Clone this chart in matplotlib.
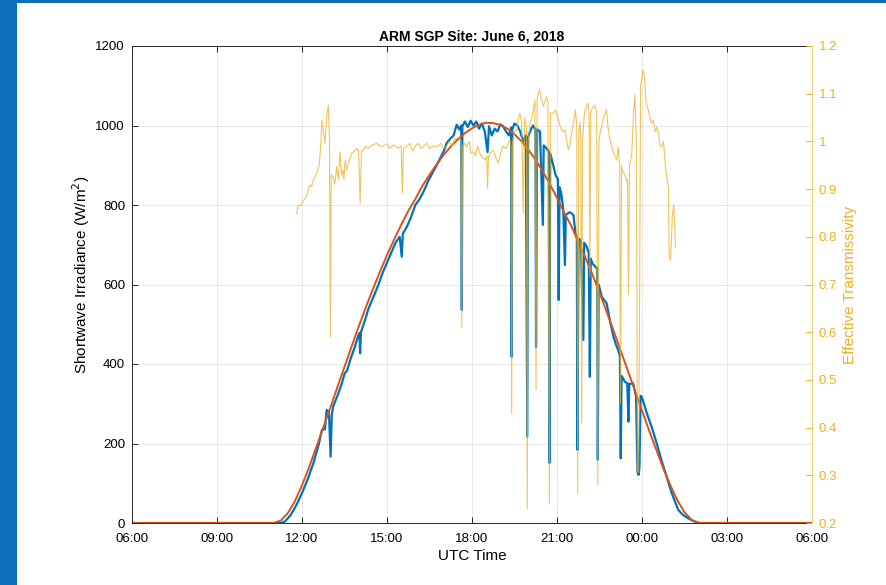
import numpy as np
import matplotlib.pyplot as plt
from matplotlib.patches import Rectangle

# times are hours after 06:00 UTC on June 6
# clear-sky model (red)
t_clear = [0, 5.0, 5.25, 5.5, 5.75, 6.0, 6.25, 6.5, 6.75, 7.0, 7.25, 7.5, 7.75,
           8.0, 8.25, 8.5, 8.75, 9.0, 9.25, 9.5, 9.75, 10.0, 10.25, 10.5, 10.75,
           11.0, 11.25, 11.5, 11.75, 12.0, 12.25, 12.5, 12.75, 13.0, 13.25, 13.5,
           13.75, 14.0, 14.25, 14.5, 14.75, 15.0, 15.25, 15.5, 15.75, 16.0, 16.25,
           16.5, 16.75, 17.0, 17.25, 17.5, 17.75, 18.0, 18.25, 18.5, 18.75, 19.0,
           19.25, 19.5, 19.75, 20.0, 24]
sw_clear = [0, 0, 6, 25, 55, 95, 140, 190, 240, 290, 342, 393, 444,
            494, 542, 588, 632, 674, 713, 750, 785, 815, 848, 876, 902,
            926, 947, 965, 981, 993, 1002, 1007, 1006, 1001, 992, 978,
            960, 938, 913, 884, 852, 818, 781, 748, 708, 668, 625,
            580, 532, 483, 433, 383, 333, 283, 233, 185, 138, 95,
            57, 27, 8, 0, 0]

# measured shortwave (blue)
t_meas = [0, 5.25, 5.4, 5.6, 5.8, 6.0, 6.2, 6.4, 6.6, 6.70, 6.81, 6.87, 6.95, 7.01,
          7.05, 7.1, 7.25, 7.4, 7.5, 7.6, 7.7, 7.85, 7.98, 8.03, 8.05, 8.08, 8.2,
          8.35, 8.5, 8.7, 8.85, 9.0, 9.15, 9.3, 9.45, 9.52, 9.56, 9.7, 9.85, 10.0,
          10.15, 10.3, 10.45, 10.6, 10.75, 10.87, 11.0, 11.1, 11.25, 11.35, 11.46,
          11.55, 11.62, 11.64, 11.66, 11.75, 11.85, 11.95, 12.05, 12.15, 12.25,
          12.35, 12.45, 12.55, 12.6, 12.7, 12.8, 12.9, 13.0, 13.1, 13.2, 13.3,
          13.38, 13.40, 13.42, 13.5, 13.6, 13.7, 13.81, 13.9, 13.95, 13.98, 14.05,
          14.15, 14.24, 14.26, 14.3, 14.4, 14.5, 14.53, 14.6, 14.71, 14.73, 14.76,
          14.85, 14.95, 15.03, 15.06, 15.09, 15.15, 15.22, 15.28, 15.31, 15.45,
          15.58, 15.65, 15.70, 15.72, 15.76, 15.84, 15.93, 15.96, 16.05, 16.12,
          16.16, 16.19, 16.25, 16.35, 16.42, 16.44, 16.47, 16.58, 16.75, 16.88,
          16.99, 17.1, 17.16, 17.22, 17.25, 17.28, 17.4, 17.48, 17.52, 17.55,
          17.69, 17.79, 17.84, 17.88, 17.91, 17.95, 17.99, 18.17, 18.35, 18.52,
          18.7, 18.87, 19.05, 19.28, 19.45, 19.63, 19.8, 20.04, 24]
sw_meas = [0, 0, 4, 20, 45, 75, 110, 150, 200, 234, 236, 284, 280, 167,
           270, 293, 320, 350, 375, 385, 410, 440, 470, 478, 427, 480, 505,
           540, 565, 600, 630, 655, 680, 705, 720, 670, 728, 745, 770, 800,
           815, 835, 860, 880, 900, 917, 935, 955, 968, 975, 1002,
           990, 1000, 536, 998, 1010, 996, 1012, 1000, 1010, 992,
           1005, 985, 933, 998, 975, 992, 985, 1003, 998, 985, 975,
           995, 418, 990, 1005, 1000, 985, 960, 975, 217, 970, 985,
           1000, 990, 443, 990, 985, 750, 950, 945, 935, 151, 930,
           905, 875, 865, 561, 845, 830, 790, 649, 775, 782,
           775, 730, 720, 184, 715, 712, 460, 705, 695, 680,
           368, 665, 653, 645, 640, 159, 600, 569, 553, 505,
           469, 445, 435, 420, 163, 370, 355, 352, 255, 350,
           351, 318, 130, 121, 140, 320, 318, 276, 240, 200,
           155, 116, 75, 33, 20, 12, 5, 0, 0]

# effective transmissivity (yellow, right axis)
t_trans = [5.81, 5.87, 5.95, 6.05, 6.12, 6.17, 6.23, 6.28, 6.34, 6.40, 6.46, 6.52,
           6.58, 6.61, 6.67, 6.70, 6.75, 6.81, 6.87, 6.93, 6.97, 7.0, 7.03, 7.10,
           7.16, 7.22, 7.28, 7.34, 7.40, 7.44, 7.48, 7.52, 7.58, 7.63, 7.70, 7.75,
           7.85, 7.93, 8.0, 8.05, 8.1, 8.16, 8.25, 8.33, 8.40, 8.5, 8.64, 8.75,
           8.85, 9.0, 9.1, 9.2, 9.3, 9.4, 9.5, 9.54, 9.58, 9.7, 9.8, 9.9, 10.0,
           10.1, 10.2, 10.3, 10.4, 10.5, 10.6, 10.7, 10.8, 10.9, 11.0, 11.1, 11.2,
           11.3, 11.4, 11.46, 11.55, 11.62, 11.64, 11.67, 11.75, 11.81, 11.9,
           11.97, 12.05, 12.12, 12.2, 12.3, 12.4, 12.48, 12.52, 12.55, 12.58,
           12.65, 12.75, 12.85, 12.93, 13.0, 13.1, 13.2, 13.34, 13.38, 13.40,
           13.43, 13.5, 13.58, 13.65, 13.69, 13.75, 13.81, 13.85, 13.92, 13.95,
           13.98, 14.05, 14.12, 14.22, 14.26, 14.3, 14.38, 14.45, 14.52, 14.58,
           14.64, 14.68, 14.73, 14.77, 14.87, 14.95, 15.05, 15.11, 15.2, 15.28,
           15.35, 15.40, 15.46, 15.52, 15.58, 15.65, 15.7, 15.73, 15.77, 15.81,
           15.84, 15.87, 15.9, 15.97, 16.05, 16.1, 16.13, 16.16, 16.19, 16.25,
           16.34, 16.4, 16.44, 16.48, 16.52, 16.65, 16.75, 16.8, 16.87, 16.93,
           16.99, 17.05, 17.11, 17.16, 17.21, 17.24, 17.28, 17.32, 17.4, 17.46,
           17.49, 17.52, 17.56, 17.64, 17.7, 17.75, 17.8, 17.84, 17.88, 17.91,
           17.95, 17.99, 18.03, 18.08, 18.15, 18.22, 18.28, 18.34, 18.4, 18.47,
           18.52, 18.58, 18.64, 18.70, 18.76, 18.82, 18.87, 18.93, 18.96, 19.01,
           19.04, 19.07, 19.12, 19.15, 19.18]
trans = [.849, .867, .865, .877, .88, .888, .9, .909, .905, .919, .925, .933,
         .945, .951, 1.0, 1.045, 1.024, .996, 1.05, 1.076, 1.0, .59, .93, .926,
         .91, .947, .92, .978, .93, .94, .92, .96, .94, .954, .965, .975,
         .98, .985, .98, .87, .98, .982, .99, .985, .989, .993, .996, .99,
         .99, .995, .985, .992, .99, .985, .99, .891, .985, .99, .996, .98, .99,
         .996, .985, .99, .996, .985, .99, .989, .99, .996, .985, .99, 1.0,
         .99, 1.006, 1.006, 1.01, 1.0, .61, .99, .996, .989, 1.0,
         .975, .978, .97, .99, .971, .965, .961, .97, .902, .968,
         .975, .982, .965, .954, .975, .99, .985, 1.003, .99, .43,
         1.0, 1.02, 1.024, 1.05, 1.059, 1.04, .85, 1.05, 1.03, .23,
         1.0, 1.038, 1.05, 1.087, .479, 1.09, 1.108, 1.09, 1.073, 1.085,
         1.094, 1.08, .24, 1.06, 1.059, 1.066, 1.045, 1.031, 1.02, 1.024,
         1.0, .982, .996, 1.02, 1.038, 1.066, 1.03, .262, 1.02, 1.04,
         1.0, .41, 1.0, 1.06, 1.076, 1.08, 1.06, .716, 1.06, 1.07,
         1.076, 1.06, .28, 1.0, 1.017, 1.05, 1.066, 1.03, 1.003, .989,
         .978, .968, .961, .989, .95, .45, .95, .937, .93, .916,
         .92, .68, .95, .975, 1.06, 1.097, 1.0, .31, .305, .6,
         1.12, 1.129, 1.15, 1.14, 1.08, 1.066, 1.05, 1.038, 1.045, 1.02,
         1.03, 1.017, .99, .989, 1.0, .95, .926, .905, .758, .751,
         .80, .842, .867, .83, .779]

x_ticks = [0, 3, 6, 9, 12, 15, 18, 21, 24]
x_labels = ['06:00', '09:00', '12:00', '15:00', '18:00', '21:00', '00:00', '03:00', '06:00']
y_ticks = [0, 200, 400, 600, 800, 1000, 1200]
y2_ticks = [0.2, 0.3, 0.4, 0.5, 0.6, 0.7, 0.8, 0.9, 1.0, 1.1, 1.2]
y2_labels = ['0.2', '0.3', '0.4', '0.5', '0.6', '0.7', '0.8', '0.9', '1', '1.1', '1.2']

BLUE = '#0072BD'
RED = '#D95319'
YELLOW = '#EDB120'
DARK = '#262626'

plt.rcParams['font.family'] = ['Liberation Sans', 'DejaVu Sans']

fig = plt.figure(figsize=(8.87, 5.85), dpi=100)
fig.patch.set_facecolor('#0A6FB8')
fig.add_artist(Rectangle((17 / 887, 0), 1, 582 / 585, transform=fig.transFigure,
                         facecolor='white', edgecolor='none', zorder=-10))

ax = fig.add_axes([132 / 887, 62 / 585, 680 / 887, 477 / 585])
ax.plot(t_meas, sw_meas, color=BLUE, lw=1.6)
ax.plot(t_clear, sw_clear, color=RED, lw=1.4)
ax.set_xlim(0, 24)
ax.set_ylim(0, 1200)
ax.set_xticks(x_ticks)
ax.set_xticklabels(x_labels)
ax.set_yticks(y_ticks)
ax.grid(True, color=DARK, alpha=0.12, lw=0.6)
ax.tick_params(direction='in', length=4, width=0.7, colors=DARK, labelsize=9.5,
               top=True, labelcolor='black')
ax.tick_params(axis='x', pad=7)
ax.tick_params(axis='y', pad=5)
for s in ['left', 'bottom', 'top']:
    ax.spines[s].set_color(DARK)
    ax.spines[s].set_linewidth(0.7)
ax.spines['right'].set_visible(False)
ax.set_xlabel('UTC Time', fontsize=11)
ax.xaxis.set_label_coords(0.5, -0.054)
ax.set_ylabel('Shortwave Irradiance (W/m$^2$)', fontsize=11)
ax.yaxis.set_label_coords(-0.059, 0.52)
ax.set_title('ARM SGP Site: June 6, 2018', fontsize=10, fontweight='bold', pad=4)

ax2 = ax.twinx()
ax2.plot(t_trans, trans, color=YELLOW, lw=0.8, alpha=0.75)
ax2.set_ylim(0.2, 1.2)
ax2.set_yticks(y2_ticks)
ax2.set_yticklabels(y2_labels)
ax2.tick_params(direction='in', length=4, width=0.7, colors=YELLOW, labelsize=9.5, pad=5)
for s in ['left', 'bottom', 'top']:
    ax2.spines[s].set_visible(False)
ax2.spines['right'].set_color('#F3D07A')
ax2.spines['right'].set_linewidth(0.8)
ax2.set_ylabel('Effective Transmissivity', fontsize=11, color=YELLOW)
ax2.yaxis.set_label_coords(1.046, 0.5)

fig.savefig('out.png', dpi=100, facecolor=fig.get_facecolor())
